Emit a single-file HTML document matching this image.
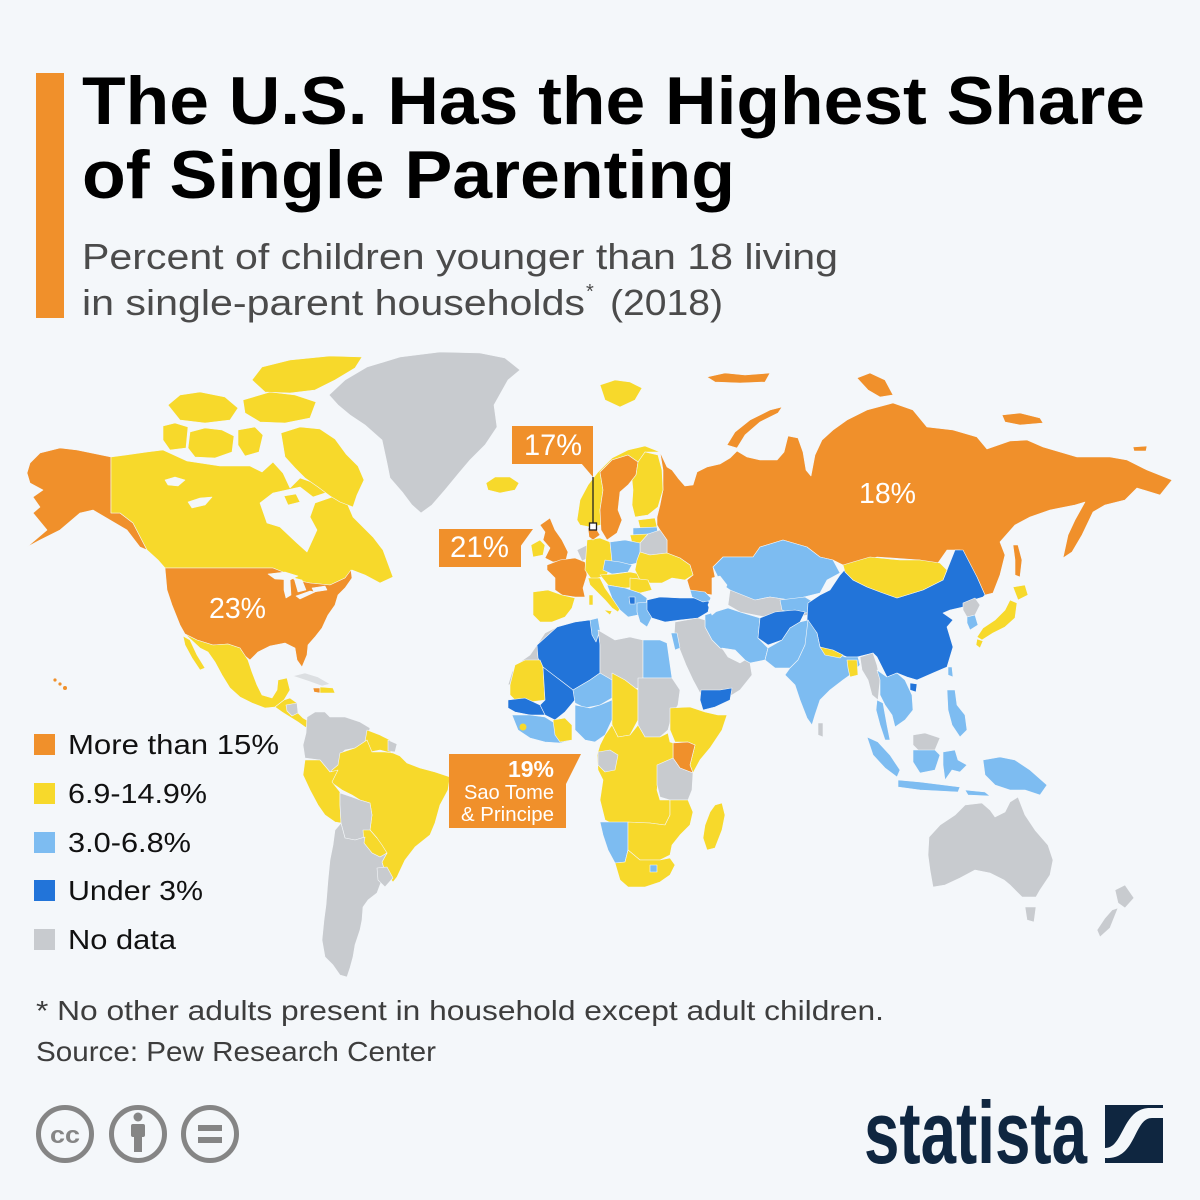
<!DOCTYPE html>
<html><head><meta charset="utf-8"><style>
html,body{margin:0;padding:0;background:#f4f7fa;}
svg{display:block;font-family:"Liberation Sans",sans-serif;}
.o{fill:#f0902b}.y{fill:#f7d92b}.l{fill:#7dbcf1}.d{fill:#2274d9}.g{fill:#c8cbcf}.w{fill:#f4f7fa}
.m path{stroke:#f4f7fa;stroke-width:0.6;stroke-linejoin:round}
</style></head><body>
<svg width="1200" height="1200" viewBox="0 0 1200 1200" xmlns="http://www.w3.org/2000/svg">
<rect width="1200" height="1200" fill="#f4f7fa"/>
<rect x="36" y="73" width="28" height="245" fill="#f0902b"/>
<text x="82" y="124" font-size="68" font-weight="bold" fill="#000" textLength="1063" lengthAdjust="spacingAndGlyphs">The U.S. Has the Highest Share</text>
<text x="82" y="198" font-size="68" font-weight="bold" fill="#000" textLength="653" lengthAdjust="spacingAndGlyphs">of Single Parenting</text>
<text x="82" y="269" font-size="36" fill="#4b4b4b" textLength="756" lengthAdjust="spacingAndGlyphs">Percent of children younger than 18 living</text>
<text x="82" y="315" font-size="36" fill="#4b4b4b" textLength="503" lengthAdjust="spacingAndGlyphs">in single-parent households</text>
<text x="586" y="298" font-size="20" fill="#4b4b4b">*</text>
<text x="610" y="315" font-size="36" fill="#4b4b4b" textLength="113" lengthAdjust="spacingAndGlyphs">(2018)</text>

<g class="m">
<!-- North America -->
<path class="o" d="M27,473 L30,463 L40,453 L60,448 L77,450 L111,457 L111,513 L120,513 L133,523 L147,550 L140,547 L127,530 L110,520 L93,510 L80,513 L60,530 L40,540 L27,547 L47,530 L33,513 L40,507 L33,497 L43,490 L30,483 Z"/>
<path class="y" d="M111,457 L147,452 L163,450 L187,461 L220,466 L250,466 L262,472 L273,462 L283,473 L290,488 L300,478 L320,485 L335,495 L347,503 L353,517 L373,537 L383,550 L393,577 L380,583 L365,575 L352,570 L345,578 L330,585 L310,583 L295,580 L285,573 L273,568 L165,568 L158,560 L147,550 L133,523 L120,513 L111,513 Z"/>
<path class="w" d="M260,503 L273,493 L300,487 L313,497 L340,488 L341,494 L315,503 L310,517 L317,530 L307,552 L297,543 L280,527 L267,523 Z"/>
<path class="y" d="M284,496 L296,494 L300,502 L288,505 Z"/>
<path class="w" d="M165,480 L175,477 L185,480 L178,486 L168,485 Z"/>
<path class="w" d="M188,502 L200,498 L212,497 L205,505 L192,508 Z"/>
<path class="y" d="M163,426 L175,423 L188,427 L186,448 L170,450 L163,440 Z"/>
<path class="y" d="M190,432 L205,428 L222,430 L234,436 L232,452 L215,458 L195,457 L188,448 Z"/>
<path class="y" d="M238,430 L255,427 L263,435 L259,452 L245,456 L238,445 Z"/>
<path class="y" d="M168,405 L180,395 L200,392 L225,397 L238,408 L230,420 L205,423 L180,420 Z"/>
<path class="y" d="M243,400 L270,392 L295,395 L316,402 L310,418 L285,423 L260,422 L245,413 Z"/>
<path class="y" d="M252,380 L262,367 L290,360 L330,356 L362,357 L355,368 L335,380 L315,390 L290,393 L265,392 Z"/>
<path class="y" d="M281,433 L300,427 L320,429 L335,439 L346,454 L358,466 L364,480 L357,495 L353,507 L340,502 L330,496 L318,487 L305,478 L295,468 L285,457 Z"/>
<path class="g" d="M329,395 L345,380 L367,367 L400,357 L440,352 L480,353 L505,358 L520,370 L508,380 L494,405 L497,427 L485,445 L470,460 L459,473 L445,490 L432,505 L421,513 L412,505 L403,493 L390,478 L387,463 L382,440 L365,425 L350,415 L338,405 Z"/>
<path class="y" d="M486,483 L495,477 L510,477 L519,483 L515,490 L500,493 L488,490 Z"/>
<path class="o" d="M165,568 L273,568 L283,572 L295,580 L310,583 L330,585 L345,578 L351,570 L352,578 L345,588 L338,595 L335,605 L328,615 L322,628 L315,637 L308,645 L307,655 L302,667 L297,660 L295,648 L285,643 L270,646 L258,652 L250,660 L245,656 L240,648 L228,644 L213,645 L197,640 L185,634 L180,625 L172,605 L167,590 Z"/>
<path class="w" d="M268,574 L285,572 L298,576 L290,580 L275,579 Z"/>
<path class="w" d="M284,579 L290,579 L291,595 L286,598 L284,590 Z"/>
<path class="w" d="M294,578 L302,580 L306,590 L298,592 Z"/>
<path class="w" d="M296,596 L310,591 L315,592 L300,599 Z"/>
<path class="w" d="M312,588 L325,586 L327,590 L314,592 Z"/>
<path class="y" d="M185,634 L197,640 L213,645 L228,644 L240,648 L248,660 L252,672 L257,685 L262,695 L272,698 L277,690 L278,680 L287,678 L290,690 L284,700 L275,707 L265,708 L252,703 L240,697 L230,688 L222,675 L215,662 L208,652 L200,648 Z"/>
<path class="y" d="M183,636 L190,640 L197,655 L205,668 L200,670 L192,658 L185,645 Z"/>
<path class="y" d="M275,707 L284,700 L290,698 L297,703 L297,712 L303,718 L310,722 L314,729 L305,727 L298,722 L290,717 L282,712 Z"/>
<path class="g" d="M286,705 L297,703 L298,713 L292,716 L287,711 Z"/>
<path fill="#dcdfe2" d="M293,676 L305,673 L318,677 L330,684 L322,686 L308,681 Z"/>
<path class="o" d="M313,688 L320,688 L320,693 L314,692 Z"/>
<path class="y" d="M320,687 L333,688 L335,693 L320,693 Z"/>
<circle cx="55" cy="680" r="1.6" class="o"/><circle cx="60" cy="684" r="1.6" class="o"/><circle cx="65" cy="688" r="2" class="o"/>
<!-- South America -->
<path class="g" d="M307,717 L315,712 L325,712 L330,717 L345,717 L360,722 L370,728 L367,740 L360,747 L345,750 L340,755 L338,768 L330,772 L320,760 L305,758 L303,745 L306,733 Z"/>
<path class="y" d="M367,730 L380,735 L390,740 L391,753 L380,750 L370,752 L365,742 Z"/>
<path class="g" d="M388,740 L397,744 L395,752 L388,751 Z"/>
<path class="y" d="M340,753 L355,748 L367,740 L372,752 L385,752 L393,753 L400,756 L407,763 L420,768 L435,772 L450,777 L448,790 L440,805 L435,823 L430,835 L415,847 L405,860 L397,877 L393,882 L385,872 L382,862 L387,853 L380,845 L377,838 L370,830 L372,815 L370,803 L360,800 L352,795 L342,790 L335,785 L330,782 L332,770 L338,765 Z"/>
<path class="y" d="M305,760 L320,760 L330,772 L338,770 L332,782 L340,792 L340,805 L341,823 L335,822 L325,815 L318,805 L310,790 L303,775 Z"/>
<path class="g" d="M340,793 L352,797 L360,800 L370,803 L372,815 L370,830 L365,837 L355,840 L345,838 L341,823 L340,805 Z"/>
<path class="y" d="M363,830 L370,830 L377,838 L382,845 L387,853 L380,857 L372,853 L364,843 Z"/>
<path class="g" d="M341,823 L345,838 L355,840 L365,837 L364,843 L372,853 L380,857 L387,853 L382,862 L385,872 L380,885 L377,893 L368,900 L363,907 L362,920 L360,930 L355,945 L353,957 L350,968 L347,977 L340,975 L333,965 L325,957 L322,940 L324,920 L326,905 L328,880 L330,860 L333,845 L335,830 Z"/>
<path class="g" d="M377,868 L387,867 L393,878 L385,887 L378,880 Z"/>
<!-- Russia & Asia -->
<path class="o" d="M660,452 L663,470 L663,490 L660,505 L657,517 L657,525 L660,530 L667,540 L667,553 L680,558 L690,565 L693,575 L687,580 L690,590 L700,593 L713,595 L717,587 L713,567 L723,557 L753,557 L760,547 L783,540 L807,547 L820,557 L833,560 L847,567 L877,557 L920,560 L933,570 L947,550 L960,550 L977,577 L985,595 L993,593 L1000,575 L1005,555 L1000,542 L1015,525 L1030,517 L1050,510 L1075,505 L1085,502 L1075,520 L1068,535 L1063,558 L1072,552 L1082,535 L1093,512 L1105,505 L1125,500 L1137,488 L1160,495 L1172,480 L1147,470 L1127,460 L1110,457 L1077,457 L1043,447 L1027,440 L1010,441 L987,449 L977,437 L953,430 L927,427 L913,410 L893,403 L867,410 L847,420 L833,430 L822,440 L815,455 L811,476 L806,470 L803,452 L798,438 L788,436 L784,452 L777,460 L760,460 L747,457 L737,451 L730,458 L720,464 L707,467 L697,472 L693,485 L685,486 L678,478 L672,470 L667,467 Z"/>
<path class="o" d="M1013,545 L1018,545 L1022,560 L1020,577 L1015,575 L1015,560 Z"/>
<path class="o" d="M727,445 L735,432 L750,420 L770,410 L782,407 L778,413 L760,422 L745,435 L737,448 Z"/>
<path class="o" d="M857,378 L870,373 L885,380 L893,395 L880,397 L868,390 Z"/>
<path class="o" d="M707,377 L725,373 L745,375 L770,373 L765,382 L740,383 L715,382 Z"/>
<path class="o" d="M1002,415 L1020,413 L1040,418 L1043,423 L1020,425 L1005,422 Z"/>
<path class="o" d="M1133,447 L1147,446 L1146,451 L1134,451 Z"/>
<path class="y" d="M600,385 L615,380 L630,382 L642,388 L635,400 L620,407 L605,400 Z"/>
<path class="l" d="M713,567 L723,557 L753,557 L760,547 L783,540 L807,547 L820,557 L833,560 L840,573 L827,580 L820,593 L800,598 L790,600 L770,597 L755,600 L740,597 L730,590 L720,583 L717,575 Z"/>
<path class="g" d="M730,590 L755,600 L770,597 L790,600 L800,598 L812,605 L808,615 L795,617 L780,615 L770,618 L755,615 L740,612 L728,605 Z"/>
<path class="l" d="M780,600 L805,597 L815,603 L810,612 L795,615 L782,610 Z"/>
<path class="d" d="M808,603 L820,595 L830,590 L840,575 L847,567 L853,580 L867,587 L897,598 L923,590 L943,580 L947,570 L955,550 L963,550 L977,577 L985,595 L983,597 L973,600 L963,607 L950,610 L943,613 L953,620 L947,627 L953,647 L947,667 L933,673 L917,680 L907,677 L897,673 L887,677 L877,657 L873,653 L857,657 L847,657 L830,650 L820,647 L817,633 L807,620 Z"/>
<path class="d" d="M910,683 L917,684 L916,692 L910,690 Z"/>
<path class="y" d="M843,565 L853,562 L870,557 L900,560 L920,560 L940,563 L947,570 L943,580 L923,590 L897,598 L880,592 L867,587 L853,580 L845,572 Z"/>
<path class="g" d="M963,603 L975,598 L980,605 L975,615 L967,617 L963,610 Z"/>
<path class="l" d="M967,617 L975,615 L978,625 L970,630 L967,623 Z"/>
<path class="y" d="M1013,587 L1025,585 L1028,595 L1018,600 Z"/>
<path class="y" d="M1010,600 L1017,603 L1015,618 L1005,627 L993,633 L982,640 L977,637 L983,628 L995,620 L1005,610 Z"/>
<path class="y" d="M977,639 L983,641 L980,648 L976,645 Z"/>
<path class="l" d="M948,667 L952,667 L953,677 L948,675 Z"/>
<path class="l" d="M705,615 L715,612 L728,608 L740,612 L760,618 L758,638 L768,648 L765,660 L750,663 L735,655 L720,648 L712,640 L705,627 Z"/>
<path class="d" d="M760,618 L775,612 L795,610 L805,612 L800,622 L790,628 L782,640 L768,645 L758,638 Z"/>
<path class="l" d="M782,640 L790,628 L800,622 L808,620 L812,630 L805,645 L798,660 L790,668 L775,668 L765,660 L768,648 Z"/>
<path class="l" d="M808,620 L817,633 L820,647 L830,650 L845,657 L858,657 L860,665 L850,675 L843,680 L830,690 L820,700 L815,715 L812,725 L807,718 L800,700 L795,685 L785,675 L790,668 L798,660 L805,645 Z"/>
<path class="y" d="M820,647 L833,650 L843,655 L840,658 L825,655 Z"/>
<path class="y" d="M847,660 L857,660 L858,675 L850,677 L848,668 Z"/>
<path class="g" d="M818,723 L823,723 L823,737 L818,735 Z"/>
<path class="g" d="M675,622 L698,618 L705,620 L705,627 L712,640 L720,648 L735,655 L750,663 L752,675 L740,690 L732,695 L720,698 L705,702 L700,693 L693,680 L686,665 L680,650 L674,638 Z"/>
<path class="w" d="M722,648 L735,650 L745,660 L740,663 L728,657 Z"/>
<path class="d" d="M701,690 L720,690 L732,688 L730,700 L715,707 L703,710 L700,700 Z"/>
<path class="l" d="M671,633 L677,633 L680,648 L675,650 Z"/>
<path class="g" d="M860,657 L873,653 L877,665 L880,680 L878,700 L872,695 L868,680 L862,670 Z"/>
<path class="l" d="M877,670 L887,677 L897,673 L905,680 L912,695 L913,710 L905,720 L895,727 L892,715 L885,705 L880,695 L880,680 Z"/>
<path class="l" d="M877,700 L883,703 L887,725 L890,740 L885,740 L880,725 L876,710 Z"/>
<path class="l" d="M867,737 L878,742 L890,755 L900,770 L897,777 L885,768 L873,755 Z"/>
<path class="g" d="M913,735 L925,733 L940,738 L935,750 L920,752 L913,745 Z"/>
<path class="l" d="M913,750 L935,750 L940,755 L935,770 L920,773 L913,762 Z"/>
<path class="l" d="M898,780 L920,782 L960,787 L958,792 L920,790 L898,787 Z"/>
<path class="l" d="M943,752 L955,750 L958,760 L967,765 L960,772 L952,770 L945,780 L943,765 Z"/>
<path class="l" d="M947,690 L955,690 L957,705 L965,715 L967,730 L960,737 L952,725 L948,710 Z"/>
<path class="l" d="M983,760 L1000,757 L1015,760 L1030,770 L1047,785 L1040,795 L1025,790 L1010,790 L995,785 L985,775 Z"/>
<path class="l" d="M965,790 L985,792 L990,796 L968,795 Z"/>
<!-- Oceania -->
<path class="g" d="M929,837 L940,825 L955,815 L965,805 L982,803 L990,810 L995,817 L1005,812 L1010,802 L1018,797 L1025,815 L1035,830 L1048,845 L1053,860 L1050,875 L1040,890 L1036,897 L1022,897 L1010,885 L1004,880 L990,873 L975,870 L960,878 L945,885 L933,887 L930,870 L928,855 Z"/>
<path class="g" d="M1025,907 L1036,907 L1034,922 L1027,920 Z"/>
<path class="g" d="M1115,890 L1125,885 L1134,898 L1125,908 L1118,903 Z"/>
<path class="g" d="M1112,910 L1118,908 L1110,928 L1100,937 L1097,930 L1105,918 Z"/>
<!-- Europe -->
<path class="y" d="M577,520 L580,500 L588,485 L598,472 L612,458 L628,450 L645,446 L660,452 L645,452 L638,462 L628,455 L612,460 L600,472 L603,490 L600,510 L601,525 L590,527 L580,525 Z"/>
<path class="o" d="M600,472 L612,460 L628,455 L638,462 L636,475 L628,485 L620,492 L618,510 L622,520 L617,533 L607,540 L601,530 L600,510 L603,490 Z"/>
<path class="y" d="M638,462 L645,452 L658,455 L662,470 L663,490 L658,507 L648,515 L635,517 L632,505 L633,490 L632,480 L636,475 Z"/>
<path class="y" d="M638,520 L655,518 L657,527 L640,528 Z"/>
<path class="l" d="M633,528 L657,527 L658,534 L633,535 Z"/>
<path class="y" d="M630,535 L648,534 L648,543 L632,543 Z"/>
<path class="g" d="M648,534 L660,530 L667,540 L667,553 L650,555 L640,552 L640,543 Z"/>
<path class="o" d="M540,525 L550,518 L555,530 L562,540 L568,552 L566,560 L553,562 L545,558 L550,548 L543,540 L545,532 Z"/>
<path class="y" d="M531,545 L540,540 L545,545 L543,555 L533,557 Z"/>
<path class="o" d="M547,565 L560,560 L575,558 L585,562 L587,575 L583,588 L585,597 L575,597 L562,595 L555,590 L555,578 L547,570 Z"/>
<path class="y" d="M533,592 L548,590 L562,595 L575,598 L572,608 L565,617 L552,622 L540,622 L533,615 Z"/>
<path class="g" d="M577,550 L587,545 L588,558 L582,561 Z"/>
<path class="y" d="M587,540 L600,538 L610,542 L612,560 L607,575 L592,580 L585,570 L586,555 Z"/>
<path class="o" d="M588,528 L595,527 L600,535 L593,540 L589,537 Z"/>
<path class="l" d="M610,542 L625,540 L640,543 L640,552 L637,563 L625,566 L612,562 Z"/>
<path class="l" d="M605,560 L620,562 L632,565 L628,572 L612,574 L603,570 Z"/>
<path class="y" d="M600,575 L615,574 L630,572 L645,575 L640,587 L625,588 L608,585 Z"/>
<path class="y" d="M640,552 L650,555 L667,553 L680,558 L690,565 L693,575 L685,580 L672,578 L662,583 L650,583 L640,580 L635,570 L637,560 Z"/>
<path class="y" d="M630,578 L648,580 L652,590 L640,593 L630,590 Z"/>
<path class="y" d="M588,578 L600,578 L605,588 L612,598 L622,605 L618,612 L612,608 L605,600 L597,592 L590,585 Z"/>
<path class="y" d="M589,595 L593,595 L593,605 L589,605 Z"/>
<path class="y" d="M604,610 L612,611 L610,615 Z"/>
<path class="l" d="M607,585 L625,588 L640,593 L647,598 L645,610 L638,615 L628,617 L620,610 L612,598 Z"/>
<path class="d" d="M629,597 L635,597 L635,604 L630,604 Z"/>
<path class="l" d="M637,603 L650,602 L653,615 L647,627 L640,622 L637,612 Z"/>
<path class="d" d="M647,600 L660,597 L680,598 L700,598 L710,602 L708,612 L698,618 L680,620 L665,622 L652,618 L647,610 Z"/>
<path class="l" d="M690,590 L705,592 L713,600 L703,602 L692,597 Z"/>
<path class="w" d="M712,578 L720,576 L727,585 L722,597 L718,610 L712,615 L708,605 L712,595 Z"/>
<!-- Africa -->
<path class="g" d="M508,685 L512,672 L520,662 L530,655 L537,645 L545,633 L557,627 L560,633 L548,648 L543,660 L530,662 L518,670 L512,684 Z"/>
<path class="d" d="M537,645 L557,627 L575,622 L590,620 L598,625 L600,645 L600,673 L590,680 L573,690 L560,680 L543,668 L538,658 Z"/>
<path class="l" d="M590,620 L598,618 L600,630 L596,642 L592,635 Z"/>
<path class="g" d="M598,630 L615,640 L630,637 L643,640 L643,687 L630,690 L610,680 L600,673 L600,645 Z"/>
<path class="l" d="M643,640 L660,640 L667,643 L672,678 L643,678 Z"/>
<path class="y" d="M510,685 L515,665 L525,660 L540,660 L543,667 L545,700 L530,702 L515,700 L510,695 Z"/>
<path class="d" d="M543,667 L573,690 L575,700 L565,712 L555,720 L545,715 L540,705 L545,700 Z"/>
<path class="d" d="M508,700 L525,698 L540,705 L545,715 L530,715 L515,712 L508,708 Z"/>
<path class="l" d="M573,690 L590,680 L600,673 L612,680 L612,698 L600,705 L585,708 L575,703 Z"/>
<path class="y" d="M612,673 L625,680 L638,690 L638,720 L630,735 L618,737 L612,725 L612,698 Z"/>
<path class="g" d="M638,678 L672,678 L680,690 L678,705 L672,715 L668,730 L660,737 L645,737 L638,725 Z"/>
<path class="l" d="M575,705 L590,708 L600,705 L612,700 L612,720 L605,735 L595,742 L585,740 L575,730 Z"/>
<path class="l" d="M512,715 L530,715 L545,717 L553,722 L560,718 L565,725 L572,740 L560,743 L545,742 L530,738 L518,730 Z"/>
<path class="y" d="M553,720 L565,718 L572,725 L572,740 L560,742 L555,735 Z"/>
<circle cx="523" cy="727" r="3.5" class="y"/>
<path class="y" d="M670,708 L690,707 L705,712 L718,715 L727,715 L722,730 L710,748 L700,760 L693,773 L690,765 L695,745 L688,742 L675,742 L670,730 Z"/>
<path class="o" d="M673,743 L688,742 L695,745 L690,765 L693,773 L680,768 L673,758 Z"/>
<path class="y" d="M605,735 L612,725 L618,737 L630,735 L638,725 L645,737 L660,737 L668,733 L670,742 L673,743 L673,758 L668,765 L660,770 L657,790 L660,800 L670,800 L670,815 L665,825 L650,823 L633,823 L615,825 L605,820 L600,800 L603,780 L598,770 L597,755 L600,745 Z"/>
<path class="g" d="M598,752 L610,750 L618,755 L615,770 L605,772 L598,765 Z"/>
<path class="g" d="M657,765 L673,758 L680,768 L693,773 L692,790 L688,800 L670,800 L660,797 L657,785 Z"/>
<path class="l" d="M600,822 L617,822 L628,822 L628,850 L625,862 L615,863 L608,850 L603,835 Z"/>
<path class="y" d="M628,822 L650,823 L665,825 L670,815 L670,800 L688,800 L693,812 L690,825 L680,835 L672,845 L670,855 L660,860 L640,860 L628,850 Z"/>
<path class="y" d="M615,863 L625,862 L628,850 L640,860 L660,860 L670,858 L675,865 L670,875 L660,882 L645,887 L628,887 L620,880 Z"/>
<path class="l" d="M650,865 L657,865 L657,872 L650,872 Z"/>
<path class="y" d="M715,805 L722,803 L725,815 L722,830 L715,848 L707,850 L703,838 L705,825 L710,812 Z"/>
</g>

<!-- callouts -->
<rect x="512" y="426" width="81" height="38" fill="#f0902b"/>
<path d="M581,463 L593,463 L593,477 Z" fill="#f0902b"/>
<line x1="593" y1="477" x2="593" y2="523" stroke="#222" stroke-width="1.3"/>
<rect x="589.5" y="523" width="7" height="7" fill="#fff" stroke="#222" stroke-width="1.3"/>
<text x="524" y="455" font-size="30" fill="#fff" textLength="58" lengthAdjust="spacingAndGlyphs">17%</text>

<rect x="439" y="529" width="82" height="38" fill="#f0902b"/>
<path d="M520,529 L533,529 L520,547 Z" fill="#f0902b"/>
<text x="450" y="557" font-size="30" fill="#fff" textLength="59" lengthAdjust="spacingAndGlyphs">21%</text>

<text x="209" y="618" font-size="29" fill="#fff" textLength="57" lengthAdjust="spacingAndGlyphs">23%</text>
<text x="859" y="503" font-size="29" fill="#fff" textLength="57" lengthAdjust="spacingAndGlyphs">18%</text>

<rect x="449" y="754" width="117" height="74" fill="#f0902b"/>
<path d="M565,754 L581,754 L565,786 Z" fill="#f0902b"/>
<text x="554" y="777" font-size="23" font-weight="bold" fill="#fff" text-anchor="end">19%</text>
<text x="554" y="799" font-size="20" fill="#fff" text-anchor="end" textLength="90" lengthAdjust="spacingAndGlyphs">Sao Tome</text>
<text x="554" y="821" font-size="20" fill="#fff" text-anchor="end" textLength="93" lengthAdjust="spacingAndGlyphs">&amp; Principe</text>

<!-- legend -->
<rect x="34" y="734" width="21" height="21" fill="#f0902b"/>
<rect x="34" y="783" width="21" height="21" fill="#f7d92b"/>
<rect x="34" y="832" width="21" height="21" fill="#7dbcf1"/>
<rect x="34" y="880" width="21" height="21" fill="#2274d9"/>
<rect x="34" y="929" width="21" height="21" fill="#c8cbcf"/>
<g font-size="28" fill="#111">
<text x="68" y="754" textLength="211" lengthAdjust="spacingAndGlyphs">More than 15%</text>
<text x="68" y="803" textLength="139" lengthAdjust="spacingAndGlyphs">6.9-14.9%</text>
<text x="68" y="852" textLength="123" lengthAdjust="spacingAndGlyphs">3.0-6.8%</text>
<text x="68" y="900" textLength="135" lengthAdjust="spacingAndGlyphs">Under 3%</text>
<text x="68" y="949" textLength="108" lengthAdjust="spacingAndGlyphs">No data</text>
</g>

<text x="36" y="1020" font-size="28" fill="#3d3d3d" textLength="848" lengthAdjust="spacingAndGlyphs">* No other adults present in household except adult children.</text>
<text x="36" y="1061" font-size="28" fill="#3d3d3d" textLength="400" lengthAdjust="spacingAndGlyphs">Source: Pew Research Center</text>

<!-- CC icons -->
<g fill="none" stroke="#858585" stroke-width="5">
<circle cx="65" cy="1134" r="26.5"/>
<circle cx="138" cy="1134" r="26.5"/>
<circle cx="210" cy="1134" r="26.5"/>
</g>
<text x="65" y="1143" font-size="24" font-weight="bold" fill="#858585" text-anchor="middle" textLength="30" lengthAdjust="spacingAndGlyphs">cc</text>
<circle cx="138" cy="1117" r="4.5" fill="#858585"/>
<rect x="131" y="1124" width="14" height="13" rx="2" fill="#858585"/>
<rect x="134" y="1136" width="8" height="16" fill="#858585"/>
<rect x="198" y="1125" width="24" height="6" fill="#858585"/>
<rect x="198" y="1137" width="24" height="6" fill="#858585"/>

<!-- statista logo -->
<text x="864" y="1163" font-size="88" font-weight="bold" fill="#0f2640" textLength="223" lengthAdjust="spacingAndGlyphs">statista</text>
<rect x="1105" y="1105" width="58" height="58" fill="#0f2640"/>
<path d="M1105,1148 C1124,1148 1122,1108 1150,1108 L1163,1108 L1163,1118 L1152,1118 C1133,1118 1137,1160 1105,1158 Z" fill="#f4f7fa"/>
</svg>
</body></html>
